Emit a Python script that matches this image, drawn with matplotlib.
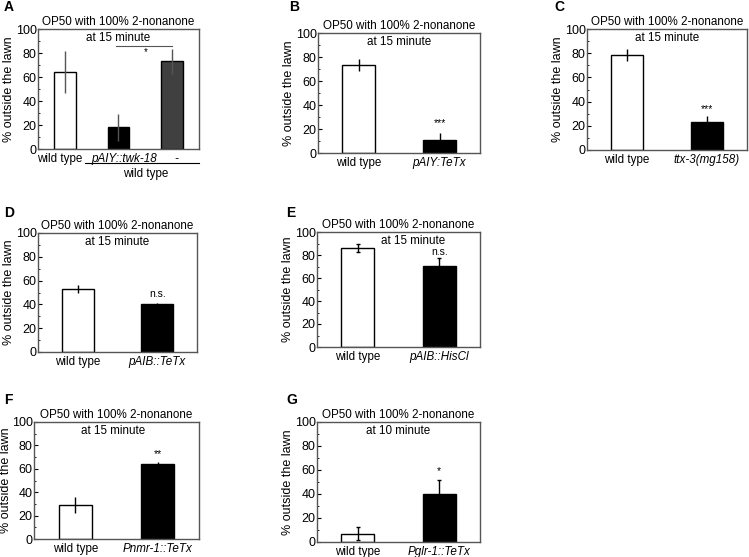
import numpy as np
import matplotlib
matplotlib.use('Agg')
import matplotlib.pyplot as plt

plt.rcParams['font.family'] = ['Liberation Sans', 'DejaVu Sans']
plt.rcParams['font.size'] = 8.5

# data
title = 'OP50 with 100% 2-nonanone'

a_labels = ['wild type', 'pAIY::twk-18', '-']
a_vals = [64, 18, 73]
a_errs = [17.5, 11, 10.5]
a_colors = ['white', 'black', '#404040']

b_labels = ['wild type', 'pAIY:TeTx']
b_vals = [73, 10.6]
b_errs = [5, 6]

c_labels = ['wild type', 'ttx-3(mg158)']
c_vals = [78.3, 23.2]
c_errs = [5, 5]

d_labels = ['wild type', 'pAIB::TeTx']
d_vals = [53, 40]
d_errs = [3.3, 1]

e_labels = ['wild type', 'pAIB::HisCl']
e_vals = [86.4, 70.5]
e_errs = [3.5, 7.2]

f_labels = ['wild type', 'Pnmr-1::TeTx']
f_vals = [29, 64.5]
f_errs = [7, 1.2]

g_labels = ['wild type', 'Pglr-1::TeTx']
g_vals = [7, 40.3]
g_errs = [5.5, 11]

fig = plt.figure(figsize=(7.49, 5.57), dpi=100)
W, H = 749.0, 557.0
FS = 8.4


def make_ax(x0, x1, y0, y1):
    return fig.add_axes([x0 / W, 1 - y1 / H, (x1 - x0) / W, (y1 - y0) / H])


def panel(ax, labels, vals, errs, colors=('white', 'black'), minute='15',
          sub_x=0.5, stars=None, star_y=None, caps=0, ecolor='black',
          tickpos=None, ylpad=0.5):
    x = np.arange(len(vals))
    ax.bar(x, vals, width=0.4, color=colors, edgecolor='black', linewidth=1, zorder=2)
    ax.errorbar(x, vals, yerr=errs, fmt='none', ecolor=ecolor, elinewidth=1,
                capsize=caps, zorder=3)
    ax.set_xlim(-0.5, len(vals) - 0.5)
    ax.set_ylim(0, 100)
    ax.set_yticks([0, 20, 40, 60, 80, 100])
    ax.set_yticks([10, 30, 50, 70, 90], minor=True)
    ax.tick_params(axis='y', direction='in', length=3, pad=1, labelsize=9)
    ax.tick_params(axis='y', which='minor', direction='in', length=1.5)
    ax.set_xticks(x if tickpos is None else tickpos)
    ax.set_xticklabels(labels, fontsize=FS)
    for i, t in enumerate(ax.get_xticklabels()):
        if i > 0:
            t.set_style('italic')
    ax.tick_params(axis='x', length=0, pad=3)
    for s in ax.spines.values():
        s.set_color('#555555')
        s.set_linewidth(1)
    ax.set_ylabel('% outside the lawn', fontsize=9, labelpad=ylpad)
    ax.set_title(title, fontsize=FS, pad=3)
    ax.text(sub_x, 0.925, 'at %s minute' % minute, transform=ax.transAxes,
            ha='center', va='center', fontsize=FS)
    if stars:
        ax.text(1, star_y, stars, ha='center', va='center', fontsize=7.5)


# A
axA = make_ax(38, 199, 29, 149)
panel(axA, a_labels, a_vals, a_errs, colors=a_colors, ecolor='#555555',
      tickpos=[-0.1, 1.1, 2.07])
axA.plot([0.95, 2.0], [86, 86], color='#555555', lw=0.8)
axA.text(1.5, 81, '*', ha='center', va='center', fontsize=7)
axA.plot([0.38, 2.5], [-0.12, -0.12], transform=axA.get_xaxis_transform(),
         color='black', lw=0.8, clip_on=False)
axA.text(1.51, -0.16, 'wild type', transform=axA.get_xaxis_transform(),
         ha='center', va='top', fontsize=FS)

# B
axB = make_ax(318, 480, 33, 153)
panel(axB, b_labels, b_vals, b_errs, stars='***', star_y=25)

# C
axC = make_ax(587, 747, 29, 150)
panel(axC, c_labels, c_vals, c_errs, stars='***', star_y=34)

# D
axD = make_ax(38, 197, 233, 352)
panel(axD, d_labels, d_vals, d_errs, stars='n.s.', star_y=49)

# E
axE = make_ax(317, 480, 232, 347)
panel(axE, e_labels, e_vals, e_errs, sub_x=0.59, stars='n.s.', star_y=83, caps=1.5)

# F
axF = make_ax(34, 199, 422, 539)
panel(axF, f_labels, f_vals, f_errs, sub_x=0.48, stars='**', star_y=73, ylpad=-0.5)

# G
axG = make_ax(317, 480, 422, 542)
panel(axG, g_labels, g_vals, g_errs, minute='10', stars='*', star_y=59, caps=1.5)

# panel letters
for lab, px, py in [('A', 4, 7), ('B', 289, 7), ('C', 554, 7), ('D', 4, 213),
                    ('E', 286, 213), ('F', 4, 400), ('G', 286, 400)]:
    fig.text(px / W, 1 - py / H, lab, fontsize=10, fontweight='bold', va='center')

fig.savefig('out.png', dpi=100)
